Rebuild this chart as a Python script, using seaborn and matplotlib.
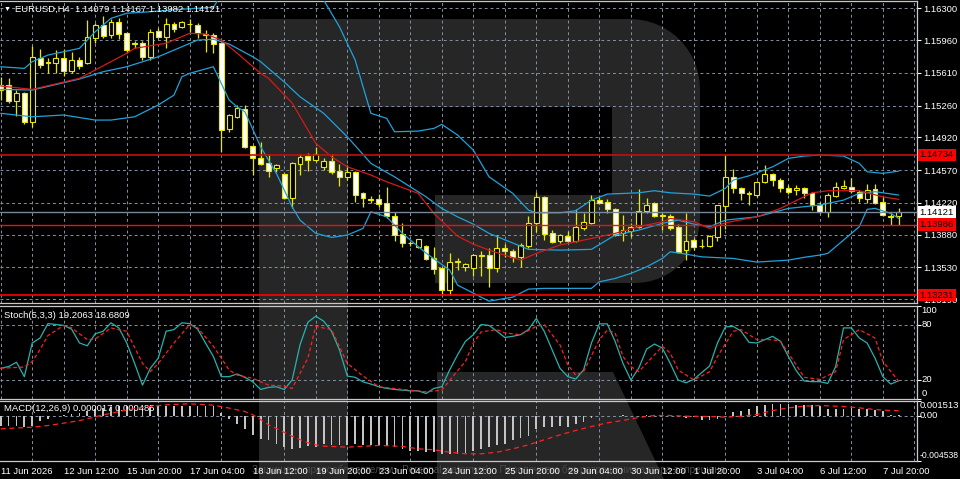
import numpy as np
import matplotlib
matplotlib.use("Agg")
import matplotlib.pyplot as plt
from matplotlib.patches import Polygon
from matplotlib.transforms import blended_transform_factory
import seaborn as sns

# EURUSD H4 candles (bar 0 = 11 Jun 2026)
opens = [1.15480, 1.15480, 1.15308, 1.15394, 1.15084, 1.15768, 1.15715, 1.15715, 1.15768, 1.15629,
         1.15747, 1.15715, 1.15982, 1.16121, 1.16015, 1.16154, 1.16036, 1.15929, 1.15929, 1.15779,
         1.16057, 1.15993, 1.16132, 1.16100, 1.16132, 1.16121, 1.16025, 1.16015, 1.15929, 1.15009,
         1.15137, 1.15223, 1.14827, 1.14698, 1.14645, 1.14591, 1.14527, 1.14270, 1.14634, 1.14720,
         1.14677, 1.14602, 1.14666, 1.14559, 1.14495, 1.14549, 1.14324, 1.14260, 1.14260, 1.14217,
         1.14078, 1.13885, 1.13789, 1.13746, 1.13757, 1.13629, 1.13521, 1.13286, 1.13586, 1.13532,
         1.13521, 1.13660, 1.13660, 1.13521, 1.13736, 1.13703, 1.13639, 1.13757, 1.14003, 1.14281,
         1.13896, 1.13810, 1.13864, 1.13810, 1.13950, 1.14003, 1.14249, 1.14228, 1.14153, 1.13896,
         1.13917, 1.13960, 1.14131, 1.14217, 1.14089, 1.14078, 1.13960, 1.13714, 1.13821, 1.13757,
         1.13757, 1.13853, 1.14185, 1.14495, 1.14377, 1.14324, 1.14303, 1.14441, 1.14527, 1.14463,
         1.14377, 1.14356, 1.14377, 1.14324, 1.14196, 1.14121, 1.14292, 1.14377, 1.14388, 1.14335,
         1.14260, 1.14367, 1.14228, 1.14078, 1.14079]
highs = [1.15565, 1.15554, 1.15426, 1.15405, 1.15897, 1.15865, 1.15768, 1.15854, 1.15865, 1.15833,
         1.15779, 1.16175, 1.16143, 1.16218, 1.16186, 1.16196, 1.16047, 1.15950, 1.15950, 1.16079,
         1.16089, 1.16196, 1.16154, 1.16164, 1.16186, 1.16143, 1.16068, 1.16036, 1.15940, 1.15169,
         1.15266, 1.15266, 1.14837, 1.14870, 1.14741, 1.14634, 1.14538, 1.14656, 1.14741, 1.14752,
         1.14816, 1.14698, 1.14741, 1.14634, 1.14624, 1.14559, 1.14335, 1.14292, 1.14313, 1.14388,
         1.14121, 1.14003, 1.13810, 1.13832, 1.13768, 1.13746, 1.13532, 1.13682, 1.13629, 1.13575,
         1.13671, 1.13703, 1.13736, 1.13875, 1.13779, 1.13725, 1.13789, 1.14078, 1.14335, 1.14292,
         1.13928, 1.13885, 1.13918, 1.14153, 1.14110, 1.14303, 1.14281, 1.14260, 1.14164, 1.14089,
         1.14003, 1.14367, 1.14270, 1.14228, 1.14110, 1.14100, 1.13993, 1.14110, 1.13843, 1.13832,
         1.13875, 1.14200, 1.14731, 1.14581, 1.14388, 1.14345, 1.14452, 1.14624, 1.14538, 1.14484,
         1.14410, 1.14410, 1.14388, 1.14335, 1.14228, 1.14324, 1.14441, 1.14463, 1.14484, 1.14356,
         1.14420, 1.14420, 1.14281, 1.14110, 1.14167]
lows = [1.15319, 1.15287, 1.15148, 1.15062, 1.15030, 1.15661, 1.15608, 1.15608, 1.15576, 1.15608,
        1.15651, 1.15704, 1.15929, 1.15982, 1.15982, 1.15972, 1.15822, 1.15875, 1.15747, 1.15747,
        1.15982, 1.15875, 1.16047, 1.16089, 1.16047, 1.15982, 1.15833, 1.15822, 1.14763, 1.14977,
        1.15126, 1.14805, 1.14517, 1.14624, 1.14495, 1.14549, 1.14260, 1.14163, 1.14517, 1.14559,
        1.14656, 1.14570, 1.14527, 1.14399, 1.14463, 1.14228, 1.14174, 1.14217, 1.14174, 1.14056,
        1.13810, 1.13746, 1.13757, 1.13736, 1.13607, 1.13457, 1.13232, 1.13232, 1.13500, 1.13489,
        1.13436, 1.13436, 1.13318, 1.13479, 1.13639, 1.13586, 1.13532, 1.13736, 1.13907, 1.13821,
        1.13789, 1.13789, 1.13800, 1.13800, 1.13928, 1.13993, 1.14206, 1.14110, 1.13864, 1.13810,
        1.13853, 1.13950, 1.14110, 1.14067, 1.13928, 1.13928, 1.13682, 1.13607, 1.13714, 1.13736,
        1.13746, 1.13810, 1.13939, 1.14324, 1.14249, 1.14196, 1.14281, 1.14431, 1.14399, 1.14335,
        1.14313, 1.14303, 1.14270, 1.14142, 1.14110, 1.14067, 1.14281, 1.14372, 1.14324, 1.14228,
        1.14217, 1.14206, 1.14078, 1.13982, 1.13982]
closes = [1.15426, 1.15308, 1.15394, 1.15084, 1.15779, 1.15694, 1.15726, 1.15768, 1.15629, 1.15747,
          1.15683, 1.15993, 1.16121, 1.16004, 1.16154, 1.16025, 1.15854, 1.15918, 1.15779, 1.16047,
          1.15993, 1.16132, 1.16079, 1.16154, 1.16128, 1.16036, 1.16015, 1.15918, 1.14998, 1.15159,
          1.15233, 1.14816, 1.14698, 1.14634, 1.14559, 1.14624, 1.14270, 1.14645, 1.14709, 1.14677,
          1.14741, 1.14666, 1.14549, 1.14495, 1.14549, 1.14303, 1.14270, 1.14249, 1.14206, 1.14078,
          1.13875, 1.13789, 1.13786, 1.13832, 1.13618, 1.13511, 1.13286, 1.13586, 1.13596, 1.13564,
          1.13660, 1.13655, 1.13521, 1.13736, 1.13703, 1.13639, 1.13768, 1.14003, 1.14281, 1.13885,
          1.13800, 1.13875, 1.13810, 1.13960, 1.14014, 1.14249, 1.14217, 1.14153, 1.13875, 1.13928,
          1.13960, 1.14131, 1.14196, 1.14078, 1.14078, 1.13950, 1.13693, 1.13810, 1.13746, 1.13760,
          1.13864, 1.14196, 1.14495, 1.14377, 1.14324, 1.14313, 1.14441, 1.14527, 1.14463, 1.14377,
          1.14335, 1.14377, 1.14324, 1.14196, 1.14121, 1.14303, 1.14388, 1.14399, 1.14345, 1.14270,
          1.14356, 1.14217, 1.14089, 1.14067, 1.14121]

# Bollinger bands and red moving average, sampled along the lines
bb_up_idx = [0, 3, 4, 6, 10, 12, 14, 16, 19, 23, 27, 28, 31, 35, 38, 40, 41, 43, 45, 46, 47, 49, 50, 53, 55,
             56, 58, 60, 62, 65, 67, 68, 71, 73, 75, 77, 81, 83, 85, 88, 90, 92, 93, 95, 98, 100, 102, 104,
             107, 109, 110, 112, 114]
bb_up = [1.15675, 1.15658, 1.15729, 1.15800, 1.15872, 1.16050, 1.16193, 1.16247, 1.16264, 1.16290,
         1.16311, 1.16443, 1.16817, 1.16978, 1.16871, 1.16550, 1.16389, 1.16103, 1.15747, 1.15461,
         1.15177, 1.15123, 1.14980, 1.14987, 1.15016, 1.15059, 1.14945, 1.14784, 1.14498, 1.14321,
         1.14142, 1.14113, 1.14113, 1.14135, 1.14249, 1.14313, 1.14327, 1.14349, 1.14327, 1.14313,
         1.14292, 1.14374, 1.14463, 1.14509, 1.14605, 1.14695, 1.14720, 1.14731, 1.14720, 1.14642,
         1.14552, 1.14535, 1.14559]
bb_mid_idx = [0, 4, 10, 13, 16, 20, 23, 25, 27, 29, 32, 33, 36, 38, 41, 44, 47, 50, 54, 56, 58, 60, 62, 67,
              71, 75, 78, 81, 84, 86, 88, 90, 92, 96, 100, 104, 107, 109, 111, 114]
bb_mid = [1.15433, 1.15426, 1.15544, 1.15622, 1.15675, 1.15782, 1.15889, 1.15961, 1.15969, 1.15918,
          1.15782, 1.15729, 1.15512, 1.15354, 1.15177, 1.14926, 1.14642, 1.14498, 1.14284, 1.14160,
          1.14070, 1.13992, 1.13893, 1.13722, 1.13714, 1.13722, 1.13875, 1.13928, 1.14000, 1.14035,
          1.13992, 1.13964, 1.14035, 1.14070, 1.14160, 1.14196, 1.14249, 1.14321, 1.14339, 1.14303]
bb_lo_idx = [0, 4, 8, 12, 14, 17, 20, 22, 23, 24, 27, 28, 29, 30, 31, 33, 35, 37, 38, 40, 42, 44, 46, 47, 49,
             51, 54, 57, 58, 60, 62, 65, 67, 69, 75, 76, 78, 80, 82, 84, 85, 87, 89, 93, 96, 100, 102, 104,
             105, 107, 109, 110, 111, 113, 114]
bb_lo = [1.15177, 1.15140, 1.15159, 1.15105, 1.15105, 1.15140, 1.15266, 1.15372, 1.15568, 1.15605,
         1.15675, 1.15498, 1.15319, 1.15247, 1.15194, 1.14819, 1.14535, 1.14177, 1.14035, 1.13893,
         1.13850, 1.13875, 1.13946, 1.14124, 1.14070, 1.13893, 1.13682, 1.13500, 1.13340, 1.13254,
         1.13168, 1.13211, 1.13297, 1.13305, 1.13305, 1.13375, 1.13411, 1.13465, 1.13535, 1.13625,
         1.13696, 1.13671, 1.13642, 1.13625, 1.13586, 1.13607, 1.13637, 1.13661, 1.13679, 1.13821,
         1.13964, 1.14150, 1.14160, 1.14107, 1.14053]
ma_idx = [0, 4, 10, 16, 17, 21, 24, 26, 28, 30, 33, 34, 37, 40, 42, 44, 47, 49, 53, 55, 58, 60, 62, 66, 68,
          71, 75, 78, 81, 84, 85, 88, 90, 92, 96, 99, 103, 105, 109, 110, 112, 114]
ma_val = [1.15469, 1.15433, 1.15551, 1.15819, 1.15872, 1.15926, 1.16033, 1.16025, 1.15961, 1.15822,
          1.15605, 1.15551, 1.15287, 1.14856, 1.14712, 1.14605, 1.14517, 1.14445, 1.14321, 1.14107,
          1.13864, 1.13778, 1.13714, 1.13607, 1.13679, 1.13768, 1.13839, 1.13893, 1.13964, 1.14017,
          1.14053, 1.14017, 1.13946, 1.14006, 1.14070, 1.14160, 1.14327, 1.14349, 1.14349, 1.14327,
          1.14284, 1.14257]

price_ticks = [1.16300, 1.15960, 1.15610, 1.15260, 1.14920, 1.14570, 1.14220, 1.13880, 1.13530, 1.13190]
red_levels = [1.14734, 1.13986, 1.13231]
bid = 1.14121

# Stochastic(5,3,3)
stoch_k = [32.7, 34.5, 39.2, 23.6, 60.0, 65.4, 81.0, 80.0, 79.0, 75.0,
           60.0, 57.0, 70.0, 72.7, 81.8, 76.3, 60.0, 38.0, 14.5, 32.7,
           43.6, 72.7, 74.5, 81.8, 81.0, 75.0, 60.0, 45.4, 23.6, 23.6,
           26.5, 22.9, 18.0, 9.8, 12.0, 12.7, 9.8, 20.0, 58.0, 82.5,
           89.0, 83.6, 72.7, 52.7, 24.3, 22.9, 18.0, 15.6, 12.7, 10.9,
           9.8, 9.0, 8.3, 8.3, 5.4, 10.9, 12.7, 30.9, 47.2, 61.8,
           69.0, 80.0, 79.0, 72.7, 66.0, 67.2, 69.0, 74.5, 86.5, 72.7,
           52.7, 32.7, 23.6, 21.0, 30.9, 60.0, 80.7, 80.7, 61.8, 38.0,
           20.0, 32.7, 53.4, 58.9, 54.5, 38.0, 20.0, 17.0, 20.7, 28.0,
           35.2, 60.0, 77.4, 78.0, 72.7, 60.7, 60.0, 63.6, 67.2, 61.8,
           45.4, 30.1, 18.9, 18.2, 18.2, 16.3, 34.5, 76.3, 76.3, 65.4,
           60.0, 43.6, 23.6, 15.6, 19.21]
stoch_d_idx = [0, 3, 4, 5, 6, 8, 9, 11, 12, 14, 16, 18, 19, 20, 22, 24, 25, 27, 29, 30, 32, 34, 36, 37, 39,
               40, 42, 44, 46, 48, 51, 54, 56, 58, 59, 60, 61, 63, 64, 66, 68, 69, 71, 72, 73, 74, 76, 77,
               78, 79, 80, 81, 83, 84, 85, 86, 88, 90, 91, 93, 94, 96, 98, 99, 101, 102, 104, 106, 107,
               109, 111, 112, 114]
stoch_d = [32.7, 34.0, 40.0, 53.0, 68.0, 79.0, 76.3, 63.6, 64.4, 76.3, 72.7, 38.0, 29.0, 38.0, 60.0,
           80.0, 76.3, 56.4, 30.9, 25.4, 21.8, 14.5, 13.4, 10.9, 43.6, 78.0, 74.5, 38.0, 24.3, 12.7,
           9.8, 7.2, 9.0, 30.0, 40.0, 60.0, 72.0, 74.5, 70.9, 69.0, 78.0, 80.0, 58.0, 36.3, 25.4,
           29.0, 63.6, 73.8, 70.9, 45.4, 34.5, 29.0, 47.2, 56.4, 49.2, 30.9, 20.0, 29.0, 45.4, 72.7,
           74.5, 63.6, 63.6, 61.8, 36.3, 22.9, 20.7, 29.0, 63.6, 74.5, 65.4, 40.0, 18.68]

# MACD(12,26,9): main histogram and signal line
macd_main = [-0.00101, -0.00101, -0.00104, -0.00111, -0.00101, -0.00057, -0.00034, -0.00010, 0.00010, 0.00020,
             0.00030, 0.00050, 0.00070, 0.00080, 0.00090, 0.00100, 0.00098, 0.00098, 0.00095, 0.00097,
             0.00098, 0.00100, 0.00100, 0.00100, 0.00095, 0.00095, 0.00095, 0.00092, 0.00030, -0.00034,
             -0.00084, -0.00141, -0.00192, -0.00235, -0.00252, -0.00286, -0.00319, -0.00336, -0.00329, -0.00312,
             -0.00319, -0.00286, -0.00302, -0.00302, -0.00302, -0.00286, -0.00302, -0.00296, -0.00296, -0.00312,
             -0.00319, -0.00336, -0.00353, -0.00353, -0.00370, -0.00370, -0.00386, -0.00393, -0.00386, -0.00380,
             -0.00353, -0.00336, -0.00319, -0.00302, -0.00286, -0.00252, -0.00228, -0.00202, -0.00134, -0.00118,
             -0.00111, -0.00101, -0.00111, -0.00084, -0.00067, -0.00024, -0.00010, -0.00003, -0.00007, 0.00007,
             -0.00003, -0.00002, 0.00010, 0.00002, 0.00001, 0.00010, -0.00002, -0.00024, -0.00017, -0.00044,
             -0.00050, -0.00034, -0.00010, 0.00034, 0.00050, 0.00067, 0.00091, 0.00101, 0.00118, 0.00118,
             0.00111, 0.00101, 0.00101, 0.00101, 0.00091, 0.00067, 0.00067, 0.00067, 0.00074, 0.00067,
             0.00067, 0.00057, 0.00050, 0.00010, 0.000017]
macd_sig_idx = [0, 4, 6, 8, 10, 13, 15, 17, 19, 21, 24, 27, 29, 31, 32, 33, 34, 35, 37, 39, 40, 41, 44, 48,
                51, 53, 55, 57, 59, 61, 63, 65, 67, 69, 71, 73, 75, 77, 79, 81, 83, 85, 87, 90, 92, 94, 96,
                98, 100, 102, 104, 107, 109, 111, 113, 114]
macd_sig = [-0.00134, -0.00118, -0.00101, -0.00077, -0.00052, 0.00006, 0.00039, 0.00070, 0.00091, 0.00108,
            0.00118, 0.00104, 0.00075, 0.00040, 0.00008, -0.00042, -0.00094, -0.00131, -0.00210, -0.00275,
            -0.00296, -0.00309, -0.00319, -0.00302, -0.00312, -0.00336, -0.00346, -0.00370, -0.00386, -0.00386,
            -0.00370, -0.00336, -0.00296, -0.00245, -0.00195, -0.00151, -0.00111, -0.00074, -0.00050, -0.00020,
            0.00000, 0.00000, -0.00007, -0.00010, -0.00017, -0.00007, 0.00010, 0.00050, 0.00077, 0.00094,
            0.00101, 0.00091, 0.00077, 0.00060, 0.00050, 0.000485]

label_idx = [0, 8, 16, 24, 32, 40, 48, 56, 64, 72, 80, 88, 96, 104, 112]
time_labels = ['11 Jun 2026', '12 Jun 12:00', '15 Jun 20:00', '17 Jun 04:00', '18 Jun 12:00',
               '19 Jun 20:00', '23 Jun 04:00', '24 Jun 12:00', '25 Jun 20:00', '29 Jun 04:00',
               '30 Jun 12:00', '1 Jul 20:00', '3 Jul 04:00', '6 Jul 12:00', '7 Jul 20:00']

# --- look of the terminal ---
sns.set_style("dark")
plt.rcParams['font.family'] = ['Liberation Sans', 'DejaVu Sans']
W, H = 960, 479
YEL = '#e8e800'
CYAN = '#1fa2dc'
GRID = '#8491a3'
FS = 6.8


def frame(x0, y0, x1, y1):
    # pixel box (top-left origin) -> figure fraction
    return [x0 / W, 1 - y1 / H, (x1 - x0) / W, (y1 - y0) / H]


def fig_pts(pts):
    return [(x / W, 1 - y / H) for x, y in pts]


def arc(cx, cy, r, a0, a1, n=14):
    t = np.radians(np.linspace(a0, a1, n))
    return list(zip(cx + r * np.cos(t), cy + r * np.sin(t)))


fig = plt.figure(figsize=(W / 100, H / 100), dpi=100, facecolor='black')

# broker logo watermark behind the chart
logo = [(259, 19)] + arc(630, 89, 70, -90, 0) + arc(635, 218, 65, 0, 90) + \
       [(435, 283), (435, 195), (612, 195), (612, 107), (348, 107), (348, 479), (259, 479)]
fig.add_artist(Polygon(fig_pts(logo), closed=True, transform=fig.transFigure,
                       fc='#262626', ec='none', zorder=-5))
leg = [(437, 372), (613, 372), (664, 479), (437, 479)]
fig.add_artist(Polygon(fig_pts(leg), closed=True, transform=fig.transFigure,
                       fc='#262626', ec='none', zorder=-5))

ax_p = fig.add_axes(frame(0, 1, 917, 303))
ax_s = fig.add_axes(frame(0, 306, 917, 398.5))
ax_m = fig.add_axes(frame(0, 400.5, 917, 460.5))

for ax in (ax_p, ax_s, ax_m):
    ax.set_facecolor('none')
    ax.set_xlim(-0.09, 116.33)
    for side in ('top', 'bottom', 'right'):
        ax.spines[side].set_color('#c8c8c8')
        ax.spines[side].set_linewidth(0.9)
    ax.spines['left'].set_visible(False)
    ax.set_xticks(range(0, 117, 4), minor=True)
    ax.grid(True, which='minor', axis='x', color=GRID, lw=0.7, ls=(0, (3, 3)))
    ax.grid(False, which='major', axis='x')
    ax.yaxis.tick_right()
    ax.tick_params(axis='y', colors='white', length=3, width=0.8, pad=1.5, labelsize=FS)
    ax.tick_params(axis='x', which='minor', length=0)

# --- price panel ---
idx = np.arange(len(opens))
o, h, l, c = (np.array(v) for v in (opens, highs, lows, closes))
ax_p.set_ylim(1.131484, 1.163783)
ax_p.set_yticks(price_ticks)
ax_p.set_yticklabels([f'{v:.5f}' for v in price_ticks])
ax_p.grid(True, which='major', axis='y', color=GRID, lw=0.7, ls=(0, (3, 3)))
ax_p.set_xticks([])

ax_p.vlines(idx, l, h, color=YEL, lw=0.9, zorder=3)
body_lo = np.minimum(o, c)
body_h = np.maximum(np.abs(c - o), 0.00003)
fills = np.where(c >= o, 'black', 'white')
ax_p.bar(idx, body_h, bottom=body_lo, width=0.62, color=fills, edgecolor=YEL, linewidth=0.8, zorder=4)

sns.lineplot(x=bb_up_idx, y=bb_up, ax=ax_p, color=CYAN, lw=0.9, zorder=5)
sns.lineplot(x=bb_mid_idx, y=bb_mid, ax=ax_p, color=CYAN, lw=0.9, zorder=5)
sns.lineplot(x=bb_lo_idx, y=bb_lo, ax=ax_p, color=CYAN, lw=0.9, zorder=5)
sns.lineplot(x=ma_idx, y=ma_val, ax=ax_p, color='#d41a1a', lw=0.9, zorder=5)

trans_p = blended_transform_factory(ax_p.transAxes, ax_p.transData)
for v, col, lw in zip(red_levels, ['#c01010', '#e81414', '#ff0000'], [1.2, 1.0, 1.2]):
    ax_p.axhline(v, color=col, lw=lw, zorder=6)
    ax_p.text(1.003, v, f'{v:.5f}', transform=trans_p, fontsize=FS, color='black', ha='left',
              va='center', clip_on=False, zorder=10,
              bbox=dict(boxstyle='square,pad=0.18', fc='#ff0000', ec='none'))
ax_p.axhline(bid, color='#778899', lw=1.0, zorder=6)
ax_p.text(1.003, bid, f'{bid:.5f}', transform=trans_p, fontsize=FS, color='black', ha='left',
          va='center', clip_on=False, zorder=10,
          bbox=dict(boxstyle='square,pad=0.18', fc='white', ec='none'))
ax_p.set_xlabel('')
ax_p.set_ylabel('')

fig.text(4 / W, 1 - 9 / H, '\u25bc', color='white', fontsize=5, va='center', ha='left')
fig.text(15 / W, 1 - 9 / H, 'EURUSD,H4  1.14079 1.14167 1.13982 1.14121', color='white',
         fontsize=FS, va='center', ha='left')

# --- stochastic panel ---
ax_s.set_ylim(0, 100)
ax_s.set_yticks([0, 20, 80, 100])
ax_s.set_yticklabels([])
ax_s.set_xticks([])
for lv in (20, 80):
    ax_s.axhline(lv, color=GRID, lw=0.7, ls=(0, (3, 3)), zorder=1)
sns.lineplot(x=idx, y=stoch_k, ax=ax_s, color='#26b3ae', lw=0.9, zorder=4)
sns.lineplot(x=stoch_d_idx, y=stoch_d, ax=ax_s, color='#ff2020', lw=0.9, ls=(0, (3, 2)), zorder=5)
trans_s = blended_transform_factory(ax_s.transAxes, ax_s.transData)
for v, va in [(100, 'top'), (80, 'center'), (20, 'center'), (0, 'bottom')]:
    ax_s.text(1.005, v, str(v), transform=trans_s, fontsize=FS, color='white', ha='left', va=va,
              clip_on=False)
ax_s.set_xlabel('')
ax_s.set_ylabel('')
ax_s.text(4 / 917, 0.9, 'Stoch(5,3,3) 19.2063 18.6809', transform=ax_s.transAxes, color='white',
          fontsize=FS, va='center', ha='left')

# --- MACD panel ---
sns.barplot(x=idx, y=macd_main, ax=ax_m, native_scale=True, width=0.22, color='#c4c4c4',
            saturation=1, errorbar=None, linewidth=0, zorder=3)
sns.lineplot(x=macd_sig_idx, y=macd_sig, ax=ax_m, color='#ff2020', lw=0.9, ls=(0, (4, 3)), zorder=4)
ax_m.axhline(0, color=GRID, lw=0.7, ls=(0, (3, 3)), zorder=1)
ax_m.set_xlim(-0.09, 116.33)
ax_m.set_ylim(-0.004538, 0.001513)
ax_m.set_yticks([-0.004538, 0.0, 0.001513])
ax_m.set_yticklabels([])
trans_m = blended_transform_factory(ax_m.transAxes, ax_m.transData)
for v, txt, va, fs in [(0.001513, '0.001513', 'top', FS), (0.0, '0.00', 'center', FS),
                       (-0.004538, '-0.004538', 'bottom', 6.2)]:
    ax_m.text(1.003, v, txt, transform=trans_m, fontsize=fs, color='white', ha='left', va=va,
              clip_on=False)
ax_m.set_xticks(label_idx)
ax_m.set_xticklabels(time_labels, ha='left')
ax_m.tick_params(axis='x', which='major', colors='white', length=3, width=0.8, pad=1.5, labelsize=FS)
ax_m.set_xlabel('')
ax_m.set_ylabel('')
ax_m.text(4 / 917, 0.86, 'MACD(12,26,9) 0.000017 0.000485', transform=ax_m.transAxes, color='white',
          fontsize=FS, va='center', ha='left')

# faint copyright line under the time axis
fig.text(252 / W, 1 - 470 / H,
         'Защищено правообладателем · Personal watermark · Перепечатка без разрешения автора запрещена',
         color='#4a4a4a', fontsize=7.2, va='center', ha='left', zorder=-1)

fig.savefig('out.png', dpi=100, facecolor='black')
